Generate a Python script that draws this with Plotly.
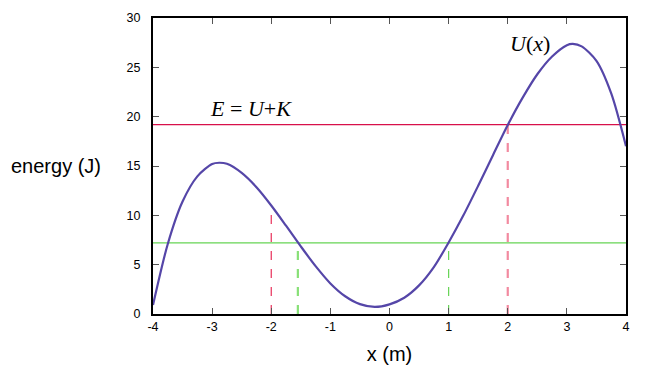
import plotly.graph_objects as go

# Potential energy curve U(x)
x_vals = [-4.0, -3.75, -3.5, -3.25, -3.0, -2.88, -2.75, -2.5, -2.25, -2.0, -1.75, -1.5, -1.25,
          -1.0, -0.75, -0.5, -0.25, 0.0, 0.25, 0.5, 0.75, 1.0, 1.25, 1.5, 1.75,
          2.0, 2.25, 2.5, 2.75, 3.0, 3.1, 3.25, 3.5, 3.75, 4.0]
u_vals = [0.9, 7.1, 11.4, 13.95, 15.2, 15.33, 15.22, 14.3, 12.85, 11.0, 8.95, 6.85, 4.85,
          3.1, 1.8, 1.0, 0.72, 0.98, 1.65, 2.9, 4.75, 7.25, 10.0, 13.0, 16.1,
          19.15, 21.9, 24.3, 26.1, 27.25, 27.38, 27.12, 25.65, 22.35, 17.0]

# Energy levels
energy_levels = [19.2, 7.2]
energy_colors = ["#d8104a", "#66d455"]

# Turning points (x, height, color, width)
turn_x = [-2.0, -1.55, 1.0, 2.0]
turn_y = [11.0, 7.2, 7.2, 19.2]
turn_colors = ["#e8305a", "#88e077", "#66d455", "#f28aa0"]
turn_widths = [1.2, 2.2, 1.2, 2.2]

x_ticks = [-4, -3, -2, -1, 0, 1, 2, 3, 4]
y_ticks = [0, 5, 10, 15, 20, 25, 30]

fig = go.Figure()

for xv, yv, c, w in zip(turn_x, turn_y, turn_colors, turn_widths):
    fig.add_trace(go.Scatter(x=[xv, xv], y=[0, yv], mode="lines",
                             line=dict(color=c, width=w, dash="dash"),
                             showlegend=False, hoverinfo="skip"))

for lv, c in zip(energy_levels, energy_colors):
    fig.add_trace(go.Scatter(x=[-4, 4], y=[lv, lv], mode="lines",
                             line=dict(color=c, width=1.2),
                             showlegend=False, hoverinfo="skip"))

fig.add_trace(go.Scatter(x=x_vals, y=u_vals, mode="lines",
                         line=dict(color="#5546a8", width=2.2, shape="spline", smoothing=0.8),
                         showlegend=False))

fig.add_annotation(x=-2.35, y=20.8, text="<i>E</i> = <i>U</i>+<i>K</i>", showarrow=False,
                   font=dict(family="Liberation Serif", size=22, color="black"))
fig.add_annotation(x=2.37, y=27.4, text="<i>U</i>(<i>x</i>)", showarrow=False,
                   font=dict(family="Liberation Serif", size=22, color="black"))
fig.add_annotation(x=-0.305, y=0.5, xref="paper", yref="paper", text="energy (J)",
                   showarrow=False, font=dict(family="Liberation Sans", size=20, color="black"))

fig.update_xaxes(range=[-4, 4], tickvals=x_ticks, ticktext=[str(t) for t in x_ticks],
                 ticks="inside", ticklen=6, tickcolor="#555", mirror="ticks",
                 showline=True, linecolor="black", linewidth=2, showgrid=False, zeroline=False,
                 tickfont=dict(family="Liberation Sans", size=12.5, color="black"),
                 title=dict(text="x (m)", font=dict(family="Liberation Sans", size=20, color="black"),
                            standoff=14))
fig.update_yaxes(range=[0, 30], tickvals=y_ticks, ticktext=[str(t) for t in y_ticks],
                 ticks="inside", ticklen=6, tickcolor="#555", mirror="ticks",
                 showline=True, linecolor="black", linewidth=2, showgrid=False, zeroline=False,
                 ticklabelstandoff=8,
                 tickfont=dict(family="Liberation Sans", size=12.5, color="black"))

fig.update_layout(width=653, height=380, margin=dict(l=153, r=27, t=18, b=66),
                  plot_bgcolor="white", paper_bgcolor="white")

fig.write_html("out.html")
